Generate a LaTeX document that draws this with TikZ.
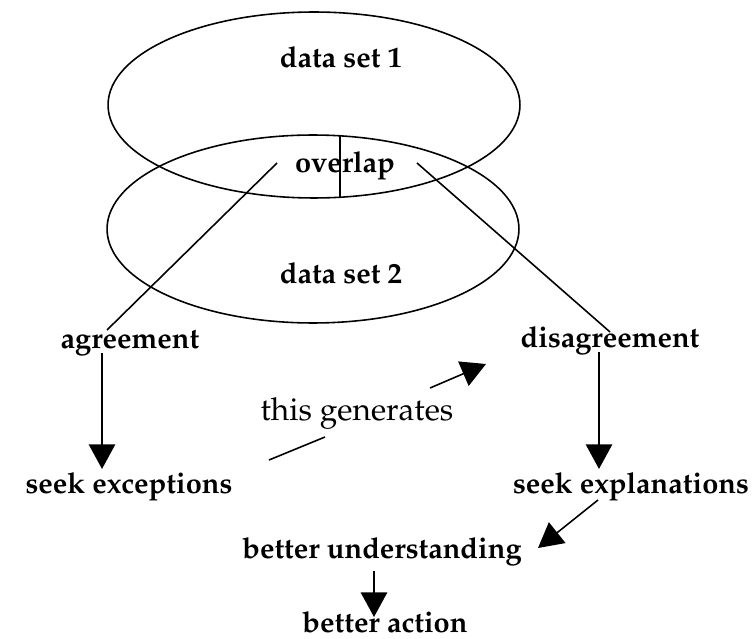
\documentclass[tikz,border=0pt]{standalone}
\usepackage[T1]{fontenc}
\usepackage{mathpazo}
\usetikzlibrary{shapes.geometric,arrows.meta}

\begin{document}
\begin{tikzpicture}[x=0.02cm,y=-0.02cm,
  setellipse/.style={ellipse,draw,line width=0.9pt,inner sep=0pt},
  tag/.style={font=\fontsize{16.5}{18}\selectfont\bfseries,inner sep=2pt},
  note/.style={font=\fontsize{18}{20}\selectfont,inner sep=2pt},
  link/.style={line width=0.9pt},
  arr/.style={line width=0.9pt,-{Triangle[length=14pt,width=15pt]}},
]
\useasboundingbox (0,0) rectangle (756,638);

% === Data sets ===
\node[setellipse,minimum width=8.24cm,minimum height=3.72cm] (ds1) at (314,105) {};
\node[setellipse,minimum width=8.24cm,minimum height=3.76cm] (ds2) at (313,229) {};

\node[tag] (lab1) at (341,57) {data set 1};
\node[tag] (overlap) at (345,166) {overlap};
\node[tag] (lab2) at (341,273) {data set 2};

\coordinate (divtop) at (340,136);
\coordinate (divbot) at (340,198);
\draw[link] (divtop) -- (divbot);

% === Agreement / disagreement ===
\node[tag] (agree) at (130,343) {agreement};
\node[tag] (disagree) at (610,341) {disagreement};

\coordinate (ovl-l) at (277,163);
\coordinate (agr-top) at (107,330);
\coordinate (ovl-r) at (417,163);
\coordinate (dis-top) at (610,332);
\draw[link] (ovl-l) -- (agr-top);
\draw[link] (ovl-r) -- (dis-top);

\node[tag] (except) at (129,487) {seek exceptions};
\node[tag] (explain) at (631,487) {seek explanations};

\coordinate (agr-out) at (102,353);
\draw[arr] (agr-out) -- (agr-out |- except.north);
\coordinate (dis-out) at (599,352);
\draw[arr] (dis-out) -- (dis-out |- explain.north);

% this generates
\node[note] (gen) at (357,414) {this generates};
\coordinate (gen-lo) at (269,460);
\coordinate (gen-a) at (325,437);
\coordinate (gen-b) at (430,388);
\coordinate (gen-hi) at (486,364);
\draw[link] (gen-lo) -- (gen-a);
\draw[arr] (gen-b) -- (gen-hi);

% === Outcome ===
\node[tag] (underst) at (382,552) {better understanding};
\node[tag] (action) at (385,622) {better action};

\coordinate (exp-out) at (598,500);
\coordinate (und-in) at (538,548);
\draw[arr] (exp-out) -- (und-in);
\coordinate (und-out) at (374,571);
\coordinate (act-in) at (374,617);
\draw[arr] (und-out) -- (act-in);

\end{tikzpicture}
\end{document}
